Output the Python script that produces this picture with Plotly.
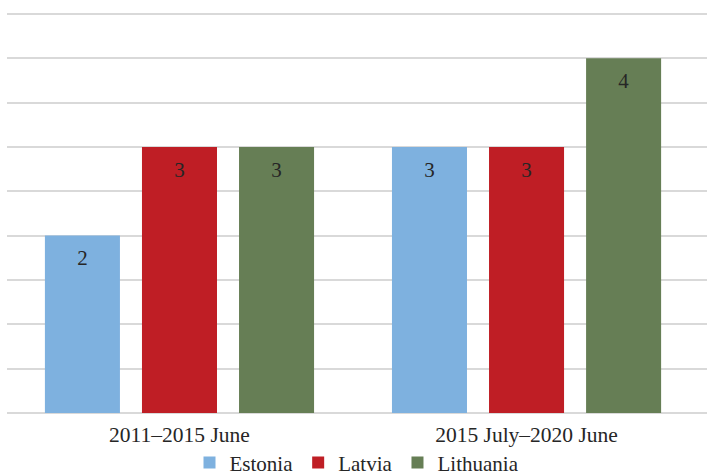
import plotly.graph_objects as go

categories = ["2011–2015 June", "2015 July–2020 June"]
series_names = ["Estonia", "Latvia", "Lithuania"]
estonia = [2, 3]
latvia = [3, 3]
lithuania = [3, 4]
values = [estonia, latvia, lithuania]
colors = ["#7EB1DF", "#BF1E25", "#667E55"]

FONT = '"Liberation Serif", "Times New Roman", serif'
TXT = "#262626"

fig = go.Figure()
for name, vals, col in zip(series_names, values, colors):
    fig.add_trace(go.Bar(
        x=categories, y=vals, name=name, marker=dict(color=col, line=dict(width=0)),
        offsetgroup=name, alignmentgroup="a", hoverinfo="skip",
    ))
for name, vals in zip(series_names, values):
    fig.add_trace(go.Scatter(
        x=categories, y=vals, mode="markers+text", text=[str(v) for v in vals],
        textposition="bottom center",
        textfont=dict(family=FONT, size=21, color=TXT),
        marker=dict(size=21, color="rgba(0,0,0,0)"),
        offsetgroup=name, alignmentgroup="a", showlegend=False, hoverinfo="skip",
        cliponaxis=False,
    ))

fig.update_layout(
    width=707, height=473,
    margin=dict(l=7, r=0, t=5, b=60, autoexpand=False),
    paper_bgcolor="white", plot_bgcolor="white",
    barmode="group", scattermode="group",
    bargap=0.161, bargroupgap=0.227,
    font=dict(family=FONT, size=21, color=TXT),
    showlegend=True,
    legend=dict(orientation="h", x=0.5, xanchor="center", y=-0.122, yanchor="middle",
                font=dict(family=FONT, size=21, color=TXT), itemwidth=30,
                tracegroupgap=0, bgcolor="rgba(0,0,0,0)"),
    xaxis=dict(type="category", range=[-0.497, 1.52], showgrid=False, ticks="",
               showline=False, zeroline=False, automargin=False,
               tickfont=dict(family=FONT, size=21.5, color=TXT),
               ticklabelstandoff=6),
    yaxis=dict(range=[0, 4.6], tickvals=[0.5 * i for i in range(10)],
               showticklabels=False, showgrid=True,
               gridcolor="#D9D9D9", gridwidth=2, zeroline=True, zerolinecolor="#D9D9D9",
               zerolinewidth=2, showline=False, ticks="", automargin=False),
)

fig.write_html("out.html", config={"displayModeBar": False},
               post_script="document.body.style.margin='0';document.body.style.overflow='hidden';")
